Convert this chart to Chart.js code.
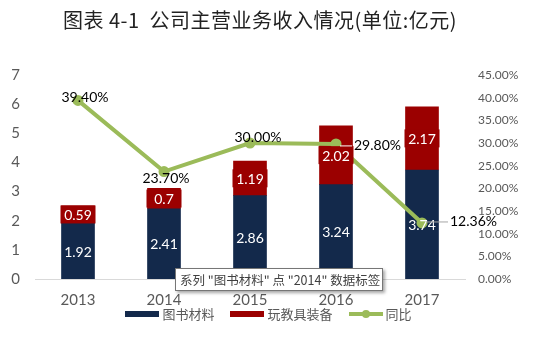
<!DOCTYPE html>
<html>
<head>
<meta charset="utf-8">
<script src="https://cdn.jsdelivr.net/npm/chart.js@4.4.1/dist/chart.umd.min.js"></script>
<style>
    html, body { margin: 0; padding: 0; background: #fff; }
    #wrap { position: relative; width: 537px; height: 359px; }
    #title {
        position: absolute; left: 0; top: 7px; width: 520px;
        text-align: center; font: 20px 'Noto Sans CJK SC', sans-serif;
        letter-spacing: 0.5px; line-height: 26px; color: #222;
    }
    #legend {
        position: absolute; left: 0; top: 305px; width: 537px;
        display: flex; justify-content: center; align-items: center;
        font: 13px 'Noto Sans CJK SC', sans-serif; line-height: 18px; color: #595959;
    }
    .item { display: flex; align-items: center; margin: 0 8px; }
    .swatch { width: 34px; height: 6px; margin-right: 3px; position: relative; }
    .swatch.line { height: 4px; }
    .swatch.line::after {
        content: ''; position: absolute; left: 13px; top: -2px;
        width: 8px; height: 8px; border-radius: 50%; background: inherit;
    }
    canvas { display: block; }
</style>
</head>
<body>
<div id="wrap">
    <div id="title">图表 4-1&nbsp;&nbsp;公司主营业务收入情况(单位:亿元)</div>
    <canvas id="chart" width="537" height="359"></canvas>
    <div id="legend"></div>
</div>
<script>
// Données
const years = ['2013', '2014', '2015', '2016', '2017'];
const bookValues = [1.92, 2.41, 2.86, 3.24, 3.74];     // 图书材料
const toyValues = [0.59, 0.7, 1.19, 2.02, 2.17];       // 玩教具装备
const yoyValues = [39.40, 23.70, 30.00, 29.80, 12.36]; // 同比 (%)
const seriesNames = ['图书材料', '玩教具装备', '同比'];
const hoverNote = '系列 "图书材料" 点 "2014" 数据标签';

// Styles
const navy = '#13294b';
const red = '#9b0000';
const green = '#9bbb59';
const grey = '#595959';
const numFont = "Lato, 'Noto Sans CJK SC', sans-serif";

// placement des étiquettes du % : [dx, dy, align]
const yoyLabelPos = [[7, -3, 'center'], [2, 7, 'center'], [8, -6, 'center'], [18, 2, 'left'], [28, -1, 'left']];
const yoyLeader = [null, null, null, '#ffffff', '#a6a6a6'];

const labelPlugin = {
    id: 'dataLabels',
    afterDatasetsDraw(chart) {
        const ctx = chart.ctx;
        ctx.save();
        ctx.font = '14px ' + numFont;
        ctx.textBaseline = 'middle';
        ctx.textAlign = 'center';

        // étiquettes des barres
        [0, 1].forEach(di => {
            chart.getDatasetMeta(di).data.forEach((bar, i) => {
                const v = chart.data.datasets[di].data[i];
                const cy = (bar.y + bar.base) / 2;
                if (di === 1) {
                    ctx.fillStyle = red;
                    ctx.fillRect(bar.x - bar.width / 2 - 1, cy - 9, bar.width + 2, 18);
                }
                ctx.fillStyle = '#fff';
                ctx.fillText(String(v), bar.x, cy + 1);
            });
        });

        // étiquettes du taux
        chart.getDatasetMeta(2).data.forEach((pt, i) => {
            const [dx, dy, align] = yoyLabelPos[i];
            if (yoyLeader[i]) {
                ctx.strokeStyle = yoyLeader[i];
                ctx.lineWidth = 1;
                ctx.beginPath();
                ctx.moveTo(pt.x + 4, pt.y + dy);
                ctx.lineTo(pt.x + dx - 2, pt.y + dy);
                ctx.stroke();
            }
            ctx.fillStyle = '#000';
            ctx.textAlign = align;
            ctx.fillText(yoyValues[i].toFixed(2) + '%', pt.x + dx, pt.y + dy);
        });
        ctx.restore();
    },
    afterDraw(chart) {
        // petite bulle d'info (survol Excel)
        const ctx = chart.ctx;
        ctx.save();
        ctx.shadowColor = 'rgba(0,0,0,0.35)';
        ctx.shadowOffsetX = 2;
        ctx.shadowOffsetY = 2;
        ctx.shadowBlur = 3;
        ctx.fillStyle = '#fff';
        ctx.fillRect(175, 268, 208, 23);
        ctx.shadowColor = 'transparent';
        ctx.strokeStyle = '#767676';
        ctx.lineWidth = 1;
        ctx.strokeRect(175.5, 268.5, 207, 22);
        ctx.fillStyle = '#404040';
        ctx.font = "12.5px 'Noto Sans CJK SC', sans-serif";
        ctx.textBaseline = 'middle';
        ctx.textAlign = 'left';
        ctx.fillText(hoverNote, 180, 280);
        ctx.restore();
    }
};

const seriesColors = [navy, red, green];

// Légende en HTML (sous le graphique)
const legend = document.getElementById('legend');
seriesNames.forEach((name, i) => {
    const item = document.createElement('div');
    item.className = 'item';
    item.innerHTML = `<span class="swatch${i === 2 ? ' line' : ''}" style="background:${seriesColors[i]}"></span><span>${name}</span>`;
    legend.appendChild(item);
});

new Chart(document.getElementById('chart').getContext('2d'), {
    data: {
        labels: years,
        datasets: [
            { type: 'bar', label: seriesNames[0], data: bookValues, backgroundColor: navy, yAxisID: 'y', order: 1, barThickness: 33 },
            { type: 'bar', label: seriesNames[1], data: toyValues, backgroundColor: red, yAxisID: 'y', order: 1, barThickness: 33 },
            {
                type: 'line', label: seriesNames[2], data: yoyValues, yAxisID: 'y1', order: 0,
                borderColor: green, backgroundColor: green, borderWidth: 4, tension: 0,
                pointRadius: 3.5, pointBackgroundColor: green, pointBorderColor: green
            }
        ]
    },
    options: {
        responsive: false,
        animation: false,
        layout: { padding: { top: 75, bottom: 50, left: 0, right: 0 } },
        plugins: {
            legend: { display: false },
            tooltip: { enabled: false },
            title: { display: false }
        },
        scales: {
            x: {
                stacked: true,
                grid: { display: false, drawTicks: false },
                border: { display: true, color: '#d9d9d9' },
                ticks: { color: grey, font: { size: 15, family: numFont }, padding: 12 },
                afterFit: s => { s.height = 30; }
            },
            y: {
                stacked: true, min: 0, max: 7,
                grid: { display: false, drawTicks: false },
                border: { display: false },
                ticks: { stepSize: 1, color: grey, font: { size: 15, family: numFont }, padding: 15 },
                afterFit: s => { s.width = 35; }
            },
            y1: {
                position: 'right', min: 0, max: 45,
                grid: { display: false, drawTicks: false },
                border: { display: false },
                ticks: { stepSize: 5, color: grey, font: { size: 12, family: numFont }, padding: 13,
                    callback: v => v.toFixed(2) + '%' },
                afterFit: s => { s.width = 72; }
            }
        }
    },
    plugins: [labelPlugin]
});
</script>
</body>
</html>
